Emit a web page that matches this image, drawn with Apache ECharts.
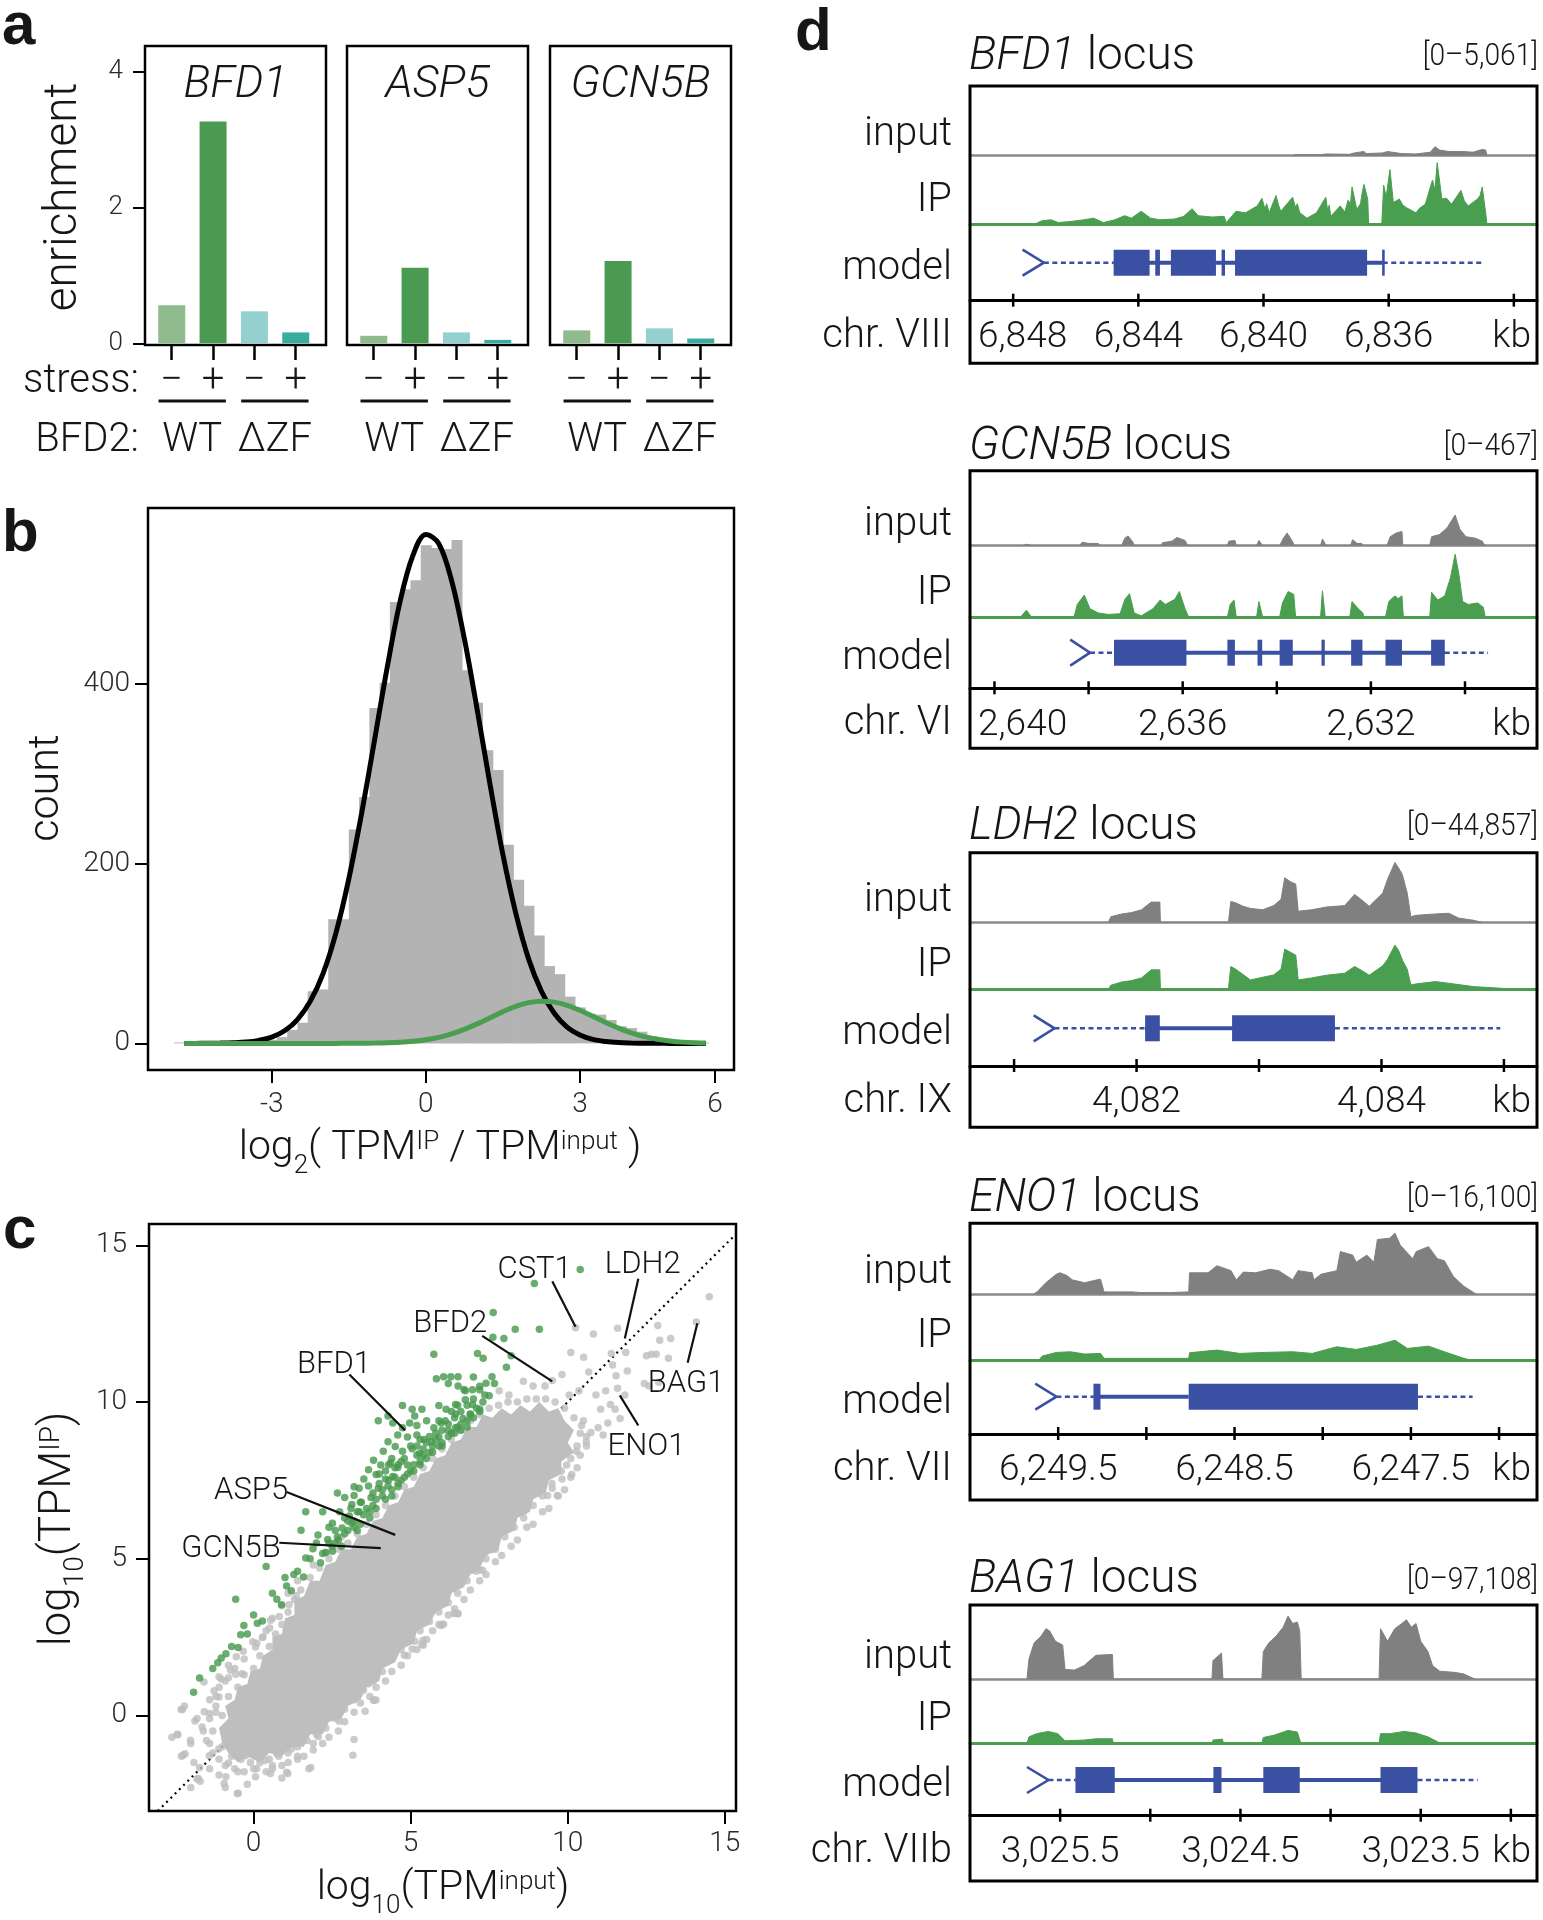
<!DOCTYPE html>
<html><head><meta charset="utf-8">
<script src="https://cdn.jsdelivr.net/npm/echarts@6/dist/echarts.min.js"></script>
<style>html,body{margin:0;padding:0;background:#fff}#c{width:1543px;height:1920px}</style>
</head><body><div id="c"></div>
<script>
// ---------------- DATA ----------------
// panel a
const aGenes = ['BFD1', 'ASP5', 'GCN5B'];
const aCats = [0, 1, 2, 3];
const aStress = ['\u2212', '+', '\u2212', '+'];
const aGroups = ['WT', '\u0394ZF'];
const aBFD1 = [0.56, 3.26, 0.47, 0.16];
const aASP5 = [0.11, 1.11, 0.16, 0.05];
const aGCN5B = [0.19, 1.21, 0.22, 0.07];
const aColors = ['#8fbb8e', '#4a9a51', '#94d0cf', '#38ac9e'];
const aYTicks = [0, 2, 4];
const aUnder = [[-0.32, 1.31], [1.68, 3.31]];
// panel b
const bCenters = [-4.8,-4.6,-4.4,-4.2,-4.0,-3.8,-3.6,-3.4,-3.2,-3.0,-2.8,-2.6,-2.4,-2.2,-2.0,-1.8,-1.6,-1.4,-1.2,-1.0,-0.8,-0.6,-0.4,-0.2,0,0.2,0.4,0.6,0.8,1.0,1.2,1.4,1.6,1.8,2.0,2.2,2.4,2.6,2.8,3.0,3.2,3.4,3.6,3.8,4.0,4.2,4.4,4.6,4.8,5.0,5.2,5.4];
const bCounts = [1,1,1,1,1,1,1,1,2,4,7,15,23,58,60,138,138,238,274,373,401,491,505,515,554,551,550,560,415,379,326,304,221,182,153,120,86,77,52,40,33,32,26,19,17,13,8,5,4,3,2,1];
const bCurveX = [-4.7,-4.5,-4.25,-4,-3.75,-3.5,-3.25,-3,-2.75,-2.5,-2.25,-2,-1.75,-1.5,-1.25,-1,-0.75,-0.5,-0.25,0,0.25,0.5,0.75,1,1.25,1.5,1.75,2,2.25,2.5,2.75,3,3.25,3.5,3.75,4,4.25,4.5,4.75,5,5.25,5.45];
const bBlack = [0,0,0.1,0.3,0.7,1.5,3.4,7,14,26.5,47,78,123,183,256,337,419,492,543,566,556,515,450,371,288,210,145,94,58,33.5,18,9.4,4.5,2.1,0.9,0.4,0.15,0.05,0,0,0,0];
const bGreen = [0,0,0,0,0,0,0,0,0,0,0,0,0,0.1,0.2,0.3,0.6,1.2,2.3,4.1,6.7,10.6,15.6,21.7,28.5,35.3,41.2,45.3,47,45.9,42.4,36.8,30.2,23.3,17,11.7,7.5,4.6,2.7,1.4,0.7,0.4];
const bTickVals = [-3, 0, 3, 5.63];
const bTickLabels = ['-3', '0', '3', '6'];
const bYTicks = [0, 200, 400];
// panel c
const cTicks = [0, 5, 10, 15];
const cDiag = [[-3.05, -3.05], [15.36, 15.36]];
// outline of the densest, fully overlapped part of the grey cloud
const cCore = [[-1.0,-0.9],[-1.1,-0.4],[-0.8,-0.1],[-0.9,0.3],[-0.6,0.5],[-0.5,0.9],[-0.2,1.0],[-0.1,1.4],[0.2,1.5],[0.3,1.9],[0.6,2.1],[0.6,2.5],[0.9,2.6],[1.0,3.1],[1.3,3.2],[1.3,3.7],[1.6,3.8],[1.8,4.3],[2.1,4.3],[2.3,4.8],[2.6,4.9],[2.8,5.3],[3.1,5.3],[3.3,5.7],[3.6,5.8],[3.8,6.2],[4.1,6.3],[4.3,6.7],[4.6,6.8],[4.8,7.2],[5.1,7.3],[5.3,7.7],[5.6,7.8],[5.8,8.2],[6.1,8.3],[6.3,8.7],[6.6,8.8],[6.8,9.2],[7.1,9.2],[7.3,9.6],[7.6,9.5],[7.9,9.8],[8.2,9.6],[8.5,9.9],[8.8,9.7],[9.1,10.0],[9.4,9.7],[9.7,9.8],[9.9,9.4],[10.2,9.1],[10.0,8.7],[10.2,8.4],[9.8,8.1],[9.8,7.7],[9.4,7.5],[9.3,7.1],[8.9,6.9],[8.8,6.5],[8.4,6.3],[8.3,5.9],[7.9,5.7],[7.8,5.3],[7.4,5.1],[7.2,4.7],[6.9,4.5],[6.7,4.1],[6.3,3.9],[6.2,3.5],[5.8,3.3],[5.6,2.9],[5.2,2.7],[5.1,2.3],[4.7,2.1],[4.5,1.7],[4.1,1.5],[4.0,1.1],[3.6,0.9],[3.4,0.5],[3.0,0.3],[2.8,-0.1],[2.4,-0.2],[2.2,-0.6],[1.8,-0.6],[1.6,-1.0],[1.2,-1.0],[0.9,-1.3],[0.5,-1.2],[0.2,-1.5],[-0.2,-1.3],[-0.5,-1.5],[-0.8,-1.2]];
const cGray = [[14.51,13.36],[14.10,12.55],[12.87,12.44],[13.28,12.03],[12.93,11.97],[11.59,12.35],[10.82,12.17],[10.25,12.37],[10.10,11.58],[11.85,11.58],[11.43,11.18],[11.39,11.55],[12.67,11.52],[12.51,11.48],[12.82,11.52],[13.21,11.40],[11.90,10.99],[11.54,10.84],[12.44,10.59],[12.59,10.51],[12.90,10.63],[10.51,11.43],[10.67,10.96],[9.82,10.88],[9.51,10.69],[9.28,10.51],[8.90,10.51],[8.59,10.66],[8.13,10.22],[7.82,10.36],[10.05,10.22],[10.36,10.36],[10.90,10.22],[11.21,10.36],[11.59,10.44],[11.82,10.22],[11.36,9.92],[11.05,9.77],[11.51,9.77],[11.67,9.47],[11.28,9.33],[10.97,9.18],[10.74,9.03],[11.13,8.95],[10.44,9.25],[10.59,8.73],[10.28,8.43],[9.97,7.99],[10.13,7.69],[9.67,7.84],[9.82,7.54],[9.51,7.25],[9.36,7.02],[9.67,7.02],[9.05,7.10],[8.59,6.50],[8.28,6.36],[7.97,6.06],[7.67,5.76],[7.59,5.32],[7.28,5.39],[7.20,4.65],[6.90,4.87],[6.59,4.42],[6.28,4.20],[5.97,3.83],[5.74,3.98],[5.51,3.53],[5.20,3.31],[5.13,2.87],[4.82,3.09],[4.74,2.72],[4.43,2.57],[6.43,3.27],[6.00,2.91],[6.51,3.24],[5.36,2.27],[4.13,2.27],[3.82,2.12],[3.90,0.49],[3.36,1.90],[3.05,1.60],[2.74,1.23],[2.82,0.86],[2.43,0.93],[2.43,0.12],[2.13,0.56],[1.97,-0.03],[1.66,-0.55],[1.82,-1.66],[1.05,-1.81],[1.20,-1.07],[0.74,-1.22],[0.36,-1.44],[0.05,-1.15],[-0.26,-1.29],[-0.49,-2.48],[-0.88,-1.96],[-0.80,-1.52],[-1.11,-1.07],[-1.41,-1.29],[-1.72,-1.66],[-1.80,-2.03],[-2.18,-1.22],[-2.41,-0.62],[-2.26,0.19],[-1.87,-0.18],[-1.57,0.12],[-1.26,0.79],[-1.03,1.16],[-0.80,1.60],[-0.57,1.31],[-0.33,2.05],[-0.03,2.35],[0.28,2.49],[0.51,2.79],[0.82,3.16],[1.13,3.53],[1.36,3.83],[3.20,-0.77],[3.82,0.49],[3.66,1.01],[3.36,1.31],[5.05,2.12],[5.51,2.42],[5.97,2.87],
[-1.5,-0.8],[-0.7,-1.1],[-1.2,0.1],[-1.6,-0.5],[-2.0,-0.9],[-1.9,-1.5],[-1.4,-1.7],[-1.1,-1.9],[-0.5,-1.8],[0.1,-1.7],[0.6,-1.6],[1.4,-1.3],[1.9,-0.9],[-2.3,-1.3],[-2.0,-2.3],[-1.7,-2.1],[-0.9,-2.3],[-0.2,-2.2],[0.9,-2.0],[-2.6,-0.7],[-1.8,-0.1],[-2.2,0.3],[-1.1,0.9],[-0.8,1.2],[-1.4,0.5],
[7.59,5.29],[6.98,4.63],[7.29,4.63],[6.50,4.26],[6.38,3.25],[6.50,3.25],[6.05,2.91],[5.40,3.46],[5.16,3.04],[5.40,2.24],[5.14,2.37],[4.80,1.92],[4.49,2.08],[4.31,1.81],[3.83,0.48],[3.55,0.13],[3.16,-1.27],[3.10,0.54],[2.73,-0.19],[2.49,0.16],[2.06,-0.68],[1.76,-1.70],[1.09,-1.85],[0.54,-1.85],[0.06,-1.96],[-0.52,-2.49],[-0.94,-2.17],[-1.76,-2.01],[-2.25,-1.27],[-2.43,-0.60],[-2.31,0.19],[-2.01,-0.79],[-1.64,-0.37],[-1.40,0.06],[-1.10,0.59],[-1.58,1.07],[-1.10,1.23],[-0.73,1.44],[-0.37,1.33],[-0.55,1.87],[0.06,2.18],[0.30,2.50],[0.54,3.04],
[-1.0,0.0],[-0.8,0.6],[-0.5,0.9],[-0.3,1.3],[0.0,1.5],[0.2,1.9],[0.5,2.2],[0.7,2.6],[0.9,2.9],[1.1,3.3],[1.3,3.7],[1.5,4.0],[1.8,4.4],[2.1,4.7],[2.4,5.0],[2.7,5.3],[3.0,5.5],[3.3,5.8],[3.6,6.1],[3.9,6.4],[4.2,6.7],[4.5,7.0],[4.8,7.3],[5.1,7.6],[5.4,7.9],[5.7,8.2],[6.0,8.5],[6.3,8.8],[6.6,9.1],[6.9,9.4],[7.2,9.6],[7.5,9.8],[7.8,9.9],[8.1,10.0],[8.4,10.0],[8.7,10.1],[9.0,10.1],[9.3,10.1],[9.6,10.0],[9.9,9.8],[10.2,9.5],
[10.4,9.0],[10.3,8.6],[10.1,8.2],[9.8,7.8],[9.5,7.4],[9.2,7.0],[8.9,6.7],[8.6,6.3],[8.3,6.0],[8.0,5.7],[7.7,5.3],[7.4,5.0],[7.1,4.6],[6.8,4.3],[6.5,3.9],[6.2,3.6],[5.9,3.3],[5.6,3.0],[5.3,2.7],[5.0,2.4],[4.7,2.1],[4.4,1.8],[4.1,1.4],[3.8,1.1],[3.5,0.8],[3.2,0.5],[2.9,0.2],[2.6,-0.1],[2.3,-0.4],[2.0,-0.6],[1.7,-0.8],[1.4,-1.0],[1.1,-1.2],[0.8,-1.3],[0.5,-1.4],[0.2,-1.5],[-0.1,-1.5],[-0.4,-1.4],[-0.7,-1.3],[-1.0,-1.0],
[10.6,8.6],[10.3,7.9],[9.9,7.2],[9.4,6.6],[8.9,6.1],[8.4,5.6],[7.9,5.1],[7.4,4.5],[6.9,4.0],[6.4,3.4],[5.9,2.9],[5.4,2.4],[4.9,1.9],[4.4,1.4],[3.9,0.9],[3.4,0.4],[2.9,-0.2],[2.4,-0.7],[1.9,-1.1],[1.4,-1.4],[0.9,-1.6],[0.4,-1.8],[-0.3,-1.8],[-0.9,-1.6],[-1.3,-1.2],[-1.3,-0.5],[-1.2,0.3],
[10.5,9.4],[10.6,8.9],[10.4,8.3],[10.1,7.6],[9.7,7.0],[9.2,6.5],[8.7,6.0],[8.2,5.4],[7.7,4.9],[7.2,4.3],[6.7,3.7],[6.2,3.2],[5.7,2.7],[5.2,2.1],[4.7,1.6],[4.2,1.1],[3.7,0.6],[3.2,0.1],[2.7,-0.5],[2.2,-0.9],[1.6,-1.3],[1.1,-1.5],[0.6,-1.7],[0.0,-1.7],[-0.6,-1.7],[-1.1,-1.4],[-1.4,-0.9],[-1.4,-0.1],[-1.2,0.6],[-0.9,1.1],[-0.6,1.5],[-0.3,1.8],[0.1,2.3],[0.4,2.7],[0.6,3.1],[0.9,3.5],[1.1,3.9],[1.4,4.3],[1.9,4.8],[2.3,5.2],[2.8,5.7]];
const cGreen = [[10.40,14.23],[8.94,13.78],[7.63,12.86],[9.10,12.32],[8.33,12.32],[7.97,12.03],[7.62,12.07],[5.74,11.52],[7.13,11.55],[7.31,11.40],[8.20,11.48],[8.05,11.11],[7.59,10.81],[7.67,10.59],[5.82,10.74],[6.05,10.81],[6.28,10.81],[6.51,10.81],[6.20,10.59],[6.51,10.51],[6.74,10.36],[6.97,10.39],[7.20,10.39],[7.36,10.22],[6.74,10.07],[6.97,9.92],[7.20,9.77],[6.43,9.92],[6.13,9.77],[5.90,9.89],[6.43,9.62],[6.67,9.47],[6.90,9.62],[4.74,9.89],[5.05,9.77],[5.36,9.77],[5.13,9.55],[4.28,9.55],[3.97,9.40],[4.43,9.33],[4.74,9.18],[4.97,9.33],[5.20,9.25],[5.51,9.40],[5.74,9.18],[5.97,9.33],[6.20,9.10],[6.43,9.18],[4.59,8.95],[4.90,8.88],[5.20,8.95],[5.43,8.80],[5.67,8.73],[5.90,8.88],[4.28,8.73],[4.51,8.58],[4.74,8.43],[5.05,8.51],[5.28,8.36],[4.13,8.43],[3.82,8.14],[4.05,7.99],[4.36,8.06],[4.59,7.91],[4.90,7.99],[3.66,7.84],[3.90,7.69],[4.20,7.54],[4.43,7.62],[3.51,7.54],[3.36,7.25],[3.66,7.32],[3.97,7.25],[4.28,7.32],[3.20,7.02],[2.90,6.95],[2.67,7.10],[3.13,6.73],[3.43,6.80],[3.74,6.95],[2.74,6.50],[3.05,6.36],[3.36,6.50],[2.51,6.13],[2.82,5.98],[3.13,6.13],[2.20,6.50],[1.66,6.50],[2.05,5.76],[2.36,5.61],[2.67,5.69],[1.51,5.91],[1.89,5.32],[2.20,5.17],[2.51,5.24],[1.66,5.02],[2.13,4.87],[0.40,4.75],[1.28,4.50],[1.59,4.42],[1.05,4.13],[1.20,3.98],[0.74,3.71],[-0.57,3.71],[0.89,3.53],[0.28,3.01],[0.12,2.94],[-0.31,2.87],[-0.41,2.57],[-0.88,1.97],[-1.03,1.83],[-1.14,1.68],[-1.72,1.19],[-1.91,0.74],[-0.49,2.17],
[2.6,5.5],[2.9,5.8],[3.2,6.0],[3.5,6.4],[3.8,6.7],[4.1,7.0],[4.4,7.2],[4.7,7.5],[5.0,7.8],[5.3,8.1],[5.6,8.4],[5.9,8.6],[6.2,8.9],[6.5,9.2],[6.8,9.4],[3.0,6.2],[3.4,6.1],[3.9,6.9],[4.5,7.6],[5.2,8.3],[5.8,8.8],[2.8,5.4],[3.3,5.9],
[3.6,6.6],[3.8,7.1],[4.0,7.4],[4.2,7.8],[4.4,8.2],[4.6,8.0],[4.8,8.2],[5.0,8.6],[5.2,8.6],[5.4,8.5],[5.6,8.9],[5.8,9.0],[6.0,9.1],[6.2,9.3],[6.4,9.5],[6.6,9.7],[6.8,9.9],[7.0,10.1],[3.4,6.8],[3.7,6.5],[4.1,7.2],[4.3,7.5],[4.6,7.3],[4.9,7.7],[5.1,8.0],[5.4,8.3],[5.7,8.6],[6.0,8.7],[6.3,9.0],[6.6,9.3],[6.9,9.6],[7.1,9.8],[2.9,6.3],[3.1,6.6],[2.4,5.5],[2.6,5.9],[3.3,6.5],[4.5,7.9],[5.3,8.8],[5.9,9.4],[6.5,9.9],[7.2,10.5],[7.4,10.6],[7.0,10.8],[6.7,10.4],
[2.3,5.2],[2.5,5.4],[2.7,5.6],[3.0,5.9],[3.2,6.2],[3.7,6.3],[3.9,6.6],[4.2,6.9],[4.4,7.0],[4.6,7.4],[4.8,7.6],[5.1,7.8],[5.3,8.0],[5.5,8.2],[5.7,8.4],[6.0,8.6],[6.4,9.0],[6.6,9.1],[6.8,9.2],[7.0,9.5],[7.2,9.7],[7.3,10.0],[7.5,10.2],[4.0,7.7],[4.3,8.0],[4.7,8.1],[5.5,8.7],[6.1,9.4],[6.3,9.7],[3.2,7.3],[2.4,6.0],[2.0,5.5],[1.8,5.0],[1.4,4.6],[1.0,4.4],[0.6,3.9],[0.0,3.2],[-0.2,2.6],[-0.7,2.2],[-1.3,1.5]];
// label, labelX, labelY, lineX1, lineY1, lineX2, lineY2
const cAnno = [['CST1',8.95,14.3,9.51,13.85,10.25,12.4],['LDH2',12.39,14.45,12.25,13.93,11.82,12.03],['BFD2',6.26,12.59,7.28,12.11,9.51,10.66],['BFD1',2.56,11.28,3.05,10.88,4.82,9.10],['ASP5',-0.08,7.25,1.05,7.13,4.51,5.76],['GCN5B',-0.72,5.39,0.82,5.51,4.05,5.34],['BAG1',13.77,10.66,13.82,11.25,14.13,12.51],['ENO1',12.51,8.65,12.25,9.25,11.66,10.21]];
// panel d  (positions in kb; coverage 0-100 of track height)
const dGenes = ['BFD1', 'GCN5B', 'LDH2', 'ENO1', 'BAG1'];
const dRanges = ['[0\u20135,061]', '[0\u2013467]', '[0\u201344,857]', '[0\u201316,100]', '[0\u201397,108]'];
const dChrom = ['chr. VIII', 'chr. VI', 'chr. IX', 'chr. VII', 'chr. VIIb'];
const dXLeft = [6849.38, 2640.52, 4080.64, 6250.0, 3026.0];
const dXRight = [6831.26, 2628.47, 4085.27, 6246.785, 3022.855];
const bfd1Ticks = [6848, 6844, 6840, 6836, 6832];
const bfd1TickLabels = ['6,848', '6,844', '6,840', '6,836', ''];
const gcn5bTicks = [2640, 2638, 2636, 2634, 2632, 2630];
const gcn5bTickLabels = ['2,640', '', '2,636', '', '2,632', ''];
const ldh2Ticks = [4081, 4082, 4083, 4084, 4085];
const ldh2TickLabels = ['', '4,082', '', '4,084', ''];
const eno1Ticks = [6249.5, 6249, 6248.5, 6248, 6247.5, 6247];
const eno1TickLabels = ['6,249.5', '', '6,248.5', '', '6,247.5', ''];
const bag1Ticks = [3025.5, 3025, 3024.5, 3024, 3023.5, 3023];
const bag1TickLabels = ['3,025.5', '', '3,024.5', '', '3,023.5', ''];
const bfd1Input = [[6839.07,0],[6838.99,1.5],[6838.16,1.5],[6838.01,2.5],[6837.25,2],[6837.10,4],[6836.79,6],[6836.72,3],[6836.19,4],[6836.04,6],[6835.89,5],[6835.58,3],[6835.13,2.5],[6834.67,5],[6834.52,13],[6834.37,8],[6834.07,6],[6833.61,6],[6833.31,5],[6833.01,9],[6832.90,8],[6832.86,0]];
const bfd1IP = [[6847.32,0],[6847.09,5],[6846.79,6.6],[6846.56,2.5],[6846.18,4],[6845.73,6.6],[6845.43,9],[6845.12,2.5],[6844.75,6.6],[6844.44,12.6],[6844.22,9],[6843.91,19],[6843.61,9],[6843.31,6.6],[6842.85,7.6],[6842.55,11.6],[6842.28,22.7],[6842.09,12.6],[6841.64,10.6],[6841.26,11.6],[6841.19,2.5],[6840.88,19],[6840.58,16.7],[6840.20,26.8],[6840.05,37.9],[6839.95,22],[6839.90,30],[6839.82,16.7],[6839.60,42],[6839.52,28],[6839.45,19],[6839.07,39.4],[6838.98,25],[6838.92,30],[6838.84,16.7],[6838.61,9],[6838.31,16.7],[6838.01,39.4],[6837.95,20],[6837.90,28],[6837.85,11.6],[6837.55,26.8],[6837.40,18],[6837.30,35],[6837.22,30],[6837.17,54.5],[6837.02,21.7],[6836.90,30],[6836.85,45],[6836.79,58],[6836.67,36.9],[6836.64,0],[6836.22,0],[6836.16,57],[6836.08,40],[6835.96,79.8],[6835.85,31.8],[6835.66,36.9],[6835.55,28],[6835.43,24.2],[6835.13,16.7],[6835.00,24],[6834.83,29.3],[6834.60,64.6],[6834.52,50],[6834.45,89.9],[6834.30,36.9],[6834.15,38],[6833.99,29.3],[6833.69,49.5],[6833.58,34],[6833.46,26.8],[6833.16,36.9],[6833.08,42],[6833.01,54.5],[6832.90,16.7],[6832.86,0]];
const gcn5bInput = [[2639.40,0],[2639.32,2],[2639.21,0],[2638.19,0],[2638.14,4.5],[2637.99,3],[2637.79,3],[2637.77,0],[2637.30,0],[2637.23,10],[2637.16,13],[2637.06,5],[2637.03,0],[2636.46,0],[2636.43,4],[2636.23,6],[2636.12,11],[2635.95,7],[2635.89,0],[2635.05,0],[2635.02,6],[2634.89,7],[2634.86,0],[2634.43,0],[2634.38,7],[2634.30,0],[2633.94,0],[2633.86,10],[2633.78,17],[2633.66,5],[2633.63,0],[2633.07,0],[2633.03,9],[2632.95,0],[2632.43,0],[2632.39,8],[2632.29,3],[2632.19,3],[2632.17,0],[2631.66,0],[2631.59,12],[2631.46,17],[2631.34,19],[2631.32,0],[2630.75,0],[2630.71,12],[2630.54,15],[2630.38,24],[2630.28,34],[2630.21,41],[2630.11,22],[2629.98,12],[2629.78,10],[2629.63,6],[2629.58,0]];
const gcn5bIP = [[2639.45,0],[2639.32,10],[2639.21,0],[2638.31,0],[2638.24,18],[2638.09,31],[2637.97,12],[2637.79,6],[2637.58,4],[2637.33,5],[2637.23,25],[2637.13,33],[2637.03,6],[2636.88,2],[2636.63,12],[2636.48,24],[2636.37,18],[2636.17,25],[2636.07,36],[2635.95,12],[2635.87,0],[2635.05,0],[2634.99,18],[2634.91,24],[2634.86,0],[2634.43,0],[2634.38,22],[2634.30,0],[2633.94,0],[2633.88,20],[2633.76,36],[2633.64,32],[2633.60,0],[2633.07,0],[2633.03,37],[2632.97,0],[2632.45,0],[2632.40,22],[2632.27,12],[2632.17,6],[2632.15,0],[2631.69,0],[2631.62,22],[2631.49,30],[2631.42,26],[2631.34,30],[2631.31,0],[2630.75,0],[2630.71,35],[2630.58,24],[2630.43,30],[2630.31,55],[2630.21,88],[2630.13,60],[2630.05,22],[2629.93,18],[2629.73,20],[2629.61,14],[2629.57,0]];
const ldh2Input = [[4081.77,0],[4081.79,8],[4081.88,12],[4081.96,14],[4082.04,18],[4082.12,29],[4082.19,29],[4082.195,0],[4082.75,0],[4082.77,30],[4082.81,28],[4082.87,23],[4082.93,20],[4083.03,18],[4083.12,24],[4083.18,33],[4083.21,64],[4083.26,58],[4083.30,55],[4083.32,16],[4083.43,18],[4083.55,22],[4083.70,24],[4083.78,40],[4083.84,32],[4083.90,23],[4084.01,42],[4084.05,62],[4084.11,86],[4084.14,78],[4084.17,69],[4084.21,42],[4084.24,8],[4084.28,10],[4084.44,12],[4084.55,13],[4084.63,6],[4084.75,3],[4084.82,0]];
const ldh2IP = [[4081.77,0],[4081.79,6],[4081.88,11],[4081.96,13],[4082.04,17],[4082.12,29],[4082.19,29],[4082.195,0],[4082.75,0],[4082.77,34],[4082.81,30],[4082.87,22],[4082.93,14],[4083.03,18],[4083.12,21.5],[4083.18,30],[4083.21,60],[4083.26,55],[4083.30,51],[4083.32,14],[4083.43,17],[4083.55,21],[4083.70,24],[4083.78,34],[4083.84,28],[4083.90,21],[4084.01,35],[4084.05,45],[4084.11,66],[4084.14,58],[4084.17,44],[4084.21,30],[4084.24,6.5],[4084.28,8],[4084.44,11.5],[4084.55,9],[4084.75,4],[4084.98,1.5],[4085.02,0]];
const eno1Input = [[6249.64,0],[6249.62,3],[6249.57,16],[6249.51,28],[6249.49,30],[6249.45,26],[6249.42,20],[6249.35,16],[6249.28,20],[6249.26,21],[6249.24,3],[6249.08,3],[6249.03,2],[6248.87,2],[6248.76,3],[6248.755,30],[6248.65,30],[6248.60,40],[6248.52,33],[6248.49,20],[6248.45,31],[6248.38,30],[6248.30,35],[6248.25,33],[6248.17,20],[6248.14,33],[6248.06,30],[6248.05,20],[6248.01,28],[6247.92,33],[6247.90,60],[6247.83,55],[6247.81,45],[6247.75,55],[6247.71,45],[6247.69,77],[6247.62,79],[6247.59,86],[6247.56,69],[6247.49,50],[6247.47,60],[6247.40,67],[6247.35,50],[6247.31,47],[6247.26,25],[6247.20,11],[6247.15,3],[6247.13,0]];
const eno1IP = [[6249.61,0],[6249.59,6],[6249.51,11.5],[6249.43,12.5],[6249.35,9],[6249.26,10],[6249.24,2.5],[6248.76,2.5],[6248.755,11],[6248.60,15],[6248.47,10],[6248.33,11.5],[6248.17,12.5],[6248.06,10],[6247.92,20],[6247.81,16],[6247.69,22.5],[6247.59,30],[6247.52,17.5],[6247.40,21],[6247.31,12.5],[6247.20,2.5],[6247.16,0]];
const bag1Input = [[3025.684,0],[3025.673,27],[3025.644,49],[3025.605,58],[3025.579,68],[3025.558,65],[3025.526,51],[3025.486,46],[3025.473,13],[3025.421,12],[3025.368,18],[3025.302,32],[3025.223,33],[3025.210,33],[3025.205,0],[3024.658,0],[3024.652,25],[3024.605,35],[3024.597,0],[3024.381,0],[3024.373,37],[3024.342,49],[3024.302,58],[3024.263,70],[3024.236,85],[3024.210,75],[3024.184,77],[3024.171,65],[3024.163,0],[3023.731,0],[3023.723,68],[3023.684,51],[3023.644,68],[3023.605,75],[3023.579,80],[3023.552,70],[3023.526,75],[3023.500,51],[3023.460,37],[3023.434,18],[3023.394,10.5],[3023.315,9],[3023.263,7],[3023.210,1],[3023.197,0]];
const bag1IP = [[3025.684,0],[3025.673,10],[3025.631,15],[3025.565,18.5],[3025.513,15],[3025.473,4],[3025.368,5],[3025.302,7],[3025.210,7],[3025.205,0],[3024.658,0],[3024.652,5],[3024.600,6.5],[3024.594,0],[3024.381,0],[3024.373,9],[3024.315,12.5],[3024.236,20],[3024.184,17.5],[3024.165,0],[3023.731,0],[3023.723,15],[3023.671,15],[3023.592,18.5],[3023.526,16],[3023.460,10],[3023.407,2.5],[3023.394,0]];
// gene models: [start, end, 0, kind]  kind 0 = dashed UTR, 1 = intron line, 2 = exon, 3 = start chevron [back, tip]
const bfd1Model = [[6847.02,6844.79,0,0],[6836.19,6832.93,0,0],[6844.79,6836.19,0,1],[6844.79,6843.64,0,2],[6843.46,6843.31,0,2],[6842.96,6841.52,0,2],[6841.34,6841.23,0,2],[6840.91,6836.69,0,2],[6836.21,6836.17,0,2],[6847.70,6847.02,0,3]];
const gcn5bModel = [[2637.97,2637.46,0,0],[2630.43,2629.51,0,0],[2637.46,2630.43,0,1],[2637.46,2635.92,0,2],[2635.05,2634.89,0,2],[2634.41,2634.31,0,2],[2633.94,2633.66,0,2],[2633.05,2632.98,0,2],[2632.42,2632.18,0,2],[2631.69,2631.34,0,2],[2630.72,2630.43,0,2],[2638.39,2637.97,0,3]];
const ldh2Model = [[4081.33,4082.07,0,0],[4083.62,4084.97,0,0],[4082.07,4083.62,0,1],[4082.07,4082.19,0,2],[4082.78,4083.62,0,2],[4081.16,4081.33,0,3]];
const eno1Model = [[6249.51,6249.30,0,0],[6247.46,6247.15,0,0],[6249.30,6248.76,0,1],[6249.30,6249.26,0,2],[6248.76,6247.46,0,2],[6249.63,6249.51,0,3]];
const bag1Model = [[3025.565,3025.415,0,0],[3023.518,3023.184,0,0],[3025.415,3023.518,0,1],[3025.415,3025.197,0,2],[3024.650,3024.605,0,2],[3024.373,3024.171,0,2],[3023.723,3023.518,0,2],[3025.684,3025.565,0,3]];

// ---------------- LAYOUT ----------------
const FF = 'Roboto, "Liberation Sans", Arial, sans-serif';
const FW = 300;
const TXT = '#161616';
const TY = 4; // vertical nudge for text glyph centres
const dLayout = [ // top, inputBase, ipBase, modelY, axisY, bottom, titleY
  [86, 155.7, 224.3, 262.7, 300.7, 363.3, 53],
  [470.7, 545.7, 617.3, 652.7, 688.3, 748.3, 443.3],
  [852.7, 922.3, 989.3, 1028.3, 1066, 1127.3, 823.3],
  [1223.3, 1294, 1360, 1396.7, 1434, 1500, 1195],
  [1605, 1679, 1743.3, 1780, 1815.7, 1881, 1576.7]];
const dFrameL = 970, dFrameW = 567;
const loci = [
  {input: bfd1Input, ip: bfd1IP, model: bfd1Model, ticks: bfd1Ticks, labels: bfd1TickLabels},
  {input: gcn5bInput, ip: gcn5bIP, model: gcn5bModel, ticks: gcn5bTicks, labels: gcn5bTickLabels},
  {input: ldh2Input, ip: ldh2IP, model: ldh2Model, ticks: ldh2Ticks, labels: ldh2TickLabels},
  {input: eno1Input, ip: eno1IP, model: eno1Model, ticks: eno1Ticks, labels: eno1TickLabels},
  {input: bag1Input, ip: bag1IP, model: bag1Model, ticks: bag1Ticks, labels: bag1TickLabels}];

const mctx = document.createElement('canvas').getContext('2d');
function textW(t, s, it, wt) { mctx.font = (it ? 'italic ' : '') + (wt || FW) + ' ' + s + 'px ' + FF; return mctx.measureText(t).width; }
function comp(pieces, x, y, align, rot) {
  const ws = pieces.map(p => textW(p.t, p.s, p.it));
  const tot = ws.reduce((a, b) => a + b, 0);
  let cx = align === 'center' ? -tot / 2 : (align === 'right' ? -tot : 0);
  const ch = [];
  pieces.forEach((p, i) => {
    ch.push({type: 'text', x: cx, y: p.dy || 0, style: {text: p.t, fontSize: p.s, fontFamily: FF, fontWeight: FW, fontStyle: p.it ? 'italic' : 'normal', fill: TXT, align: 'left', verticalAlign: 'middle'}});
    cx += ws[i];
  });
  return {type: 'group', x: x, y: y, rotation: rot || 0, children: ch, silent: true};
}
function txt(t, x, y, s, align, extra, el) {
  return Object.assign({type: 'text', x: x, y: y, silent: true, style: Object.assign({text: t, fontSize: s, fontFamily: FF, fontWeight: FW, fill: TXT, align: align || 'left', verticalAlign: 'middle'}, extra || {})}, el || {});
}

const option = {animation: false, backgroundColor: '#fff', textStyle: {fontFamily: FF, fontWeight: FW}, grid: [], xAxis: [], yAxis: [], series: []};
function mkGrid(l, t, w, h, extra) { option.grid.push(Object.assign({left: l, top: t, width: w, height: h, containLabel: false, outerBoundsMode: 'none'}, extra || {})); return option.grid.length - 1; }
function mkX(c) { option.xAxis.push(c); return option.xAxis.length - 1; }
function mkY(c) { option.yAxis.push(c); return option.yAxis.length - 1; }
const noAxis = {axisLine: {show: false, onZero: false}, axisTick: {show: false}, axisLabel: {show: false}, splitLine: {show: false}};
const noLine = {show: false, onZero: false};
const lblStyle = (s, m, extra) => Object.assign({fontSize: s, fontFamily: FF, fontWeight: FW, color: '#2a2a2a', margin: m}, extra || {});

// ---- panel a ----
const aSets = [aBFD1, aASP5, aGCN5B];
const aFrameLeft = [145, 347, 550];
const aXIdx = [];
aSets.forEach((vals, i) => {
  const g = mkGrid(aFrameLeft[i], 46, 181, 299, {show: true, borderColor: '#000', borderWidth: 2.5, backgroundColor: 'rgba(0,0,0,0)'});
  const xi = mkX({gridIndex: g, type: 'value', min: -0.647, max: 3.732, axisLine: noLine, splitLine: {show: false},
    axisTick: {show: true, customValues: aCats, length: 15, lineStyle: {color: '#000', width: 2.5}},
    axisLabel: lblStyle(40, 37, {show: true, customValues: aCats, formatter: v => aStress[Math.round(v)], verticalAlign: 'middle', color: TXT})});
  aXIdx.push(xi);
  const yi = mkY({gridIndex: g, type: 'value', min: -0.025, max: 4.372, axisLine: noLine, splitLine: {show: false},
    axisTick: {show: i === 0, customValues: aYTicks, length: 12, lineStyle: {color: '#000', width: 2}},
    axisLabel: lblStyle(26, 22, {show: i === 0, customValues: aYTicks})});
  option.series.push({type: 'bar', xAxisIndex: xi, yAxisIndex: yi, barWidth: 27, silent: true,
    data: vals.map((v, k) => ({value: [aCats[k], v], itemStyle: {color: aColors[k]}}))});
});

// ---- panel b ----
const gb = mkGrid(148, 508, 586, 562, {show: true, borderColor: '#000', borderWidth: 2.5, backgroundColor: 'rgba(0,0,0,0)'});
const bxi = mkX({gridIndex: gb, type: 'value', min: -5.41, max: 6.0, axisLine: noLine, splitLine: {show: false},
  axisTick: {show: true, customValues: bTickVals, length: 13, lineStyle: {color: '#000', width: 2}},
  axisLabel: lblStyle(28, 35, {customValues: bTickVals, verticalAlign: 'middle', formatter: v => { let k = 0; bTickVals.forEach((t, i) => { if (Math.abs(t - v) < Math.abs(bTickVals[k] - v)) k = i; }); return bTickLabels[k]; }})});
const byi = mkY({gridIndex: gb, type: 'value', min: -29.6, max: 595.5, axisLine: noLine, splitLine: {show: false},
  axisTick: {show: true, customValues: bYTicks, length: 13, lineStyle: {color: '#000', width: 2}},
  axisLabel: lblStyle(28, 18, {customValues: bYTicks})});
option.series.push({type: 'custom', xAxisIndex: bxi, yAxisIndex: byi, silent: true, z: 2,
  data: bCenters.map((c, i) => [c, bCounts[i]]), encode: {x: 0, y: 1},
  renderItem: (params, api) => {
    const c = api.value(0), n = api.value(1);
    const p1 = api.coord([c - 0.1, n]), p2 = api.coord([c + 0.1, 0]);
    return {type: 'rect', shape: {x: p1[0], y: p1[1], width: p2[0] - p1[0] + 0.7, height: p2[1] - p1[1]}, style: {fill: '#b3b3b3'}};
  }});
option.series.push({type: 'line', xAxisIndex: bxi, yAxisIndex: byi, silent: true, z: 3, smooth: 0.35, symbol: 'none',
  data: bCurveX.map((x, i) => [x, bBlack[i]]), lineStyle: {color: '#000', width: 5}});
option.series.push({type: 'line', xAxisIndex: bxi, yAxisIndex: byi, silent: true, z: 4, smooth: 0.35, symbol: 'none',
  data: bCurveX.map((x, i) => [x, bGreen[i]]), lineStyle: {color: '#4a9e50', width: 5}});

// ---- panel c ----
const gc = mkGrid(149, 1224, 587, 587, {show: true, borderColor: '#000', borderWidth: 2.5, backgroundColor: 'rgba(0,0,0,0)'});
const cxi = mkX({gridIndex: gc, type: 'value', min: -3.33, max: 15.36, axisLine: noLine, splitLine: {show: false},
  axisTick: {show: true, customValues: cTicks, length: 13, lineStyle: {color: '#000', width: 2}},
  axisLabel: lblStyle(28, 33, {customValues: cTicks, verticalAlign: 'middle'})});
const cyi = mkY({gridIndex: gc, type: 'value', min: -3.05, max: 15.68, axisLine: noLine, splitLine: {show: false},
  axisTick: {show: true, customValues: cTicks, length: 13, lineStyle: {color: '#000', width: 2}},
  axisLabel: lblStyle(28, 22, {customValues: cTicks})});
option.series.push({type: 'line', xAxisIndex: cxi, yAxisIndex: cyi, silent: true, z: 1, symbol: 'none', data: cDiag,
  lineStyle: {color: '#000', width: 2.2, type: [2, 4]}});
option.series.push({type: 'custom', xAxisIndex: cxi, yAxisIndex: cyi, silent: true, z: 2, data: [[cCore[0][0], cCore[0][1]]], encode: {x: 0, y: 1},
  renderItem: (params, api) => ({type: 'polygon', shape: {points: cCore.map(p => api.coord(p))}, style: {fill: '#bebebe'}})});
option.series.push({type: 'scatter', xAxisIndex: cxi, yAxisIndex: cyi, silent: true, z: 3, data: cGray, symbolSize: 7.5, itemStyle: {color: '#bebebe'}});
option.series.push({type: 'scatter', xAxisIndex: cxi, yAxisIndex: cyi, silent: true, z: 4, data: cGreen, symbolSize: 7.5, itemStyle: {color: '#46994c'}});
option.series.push({type: 'custom', xAxisIndex: cxi, yAxisIndex: cyi, silent: true, z: 6, data: cAnno.map(a => [a[1], a[2]]), encode: {x: 0, y: 1},
  renderItem: (params, api) => {
    const a = cAnno[params.dataIndex];
    const p = api.coord([a[1], a[2]]), l1 = api.coord([a[3], a[4]]), l2 = api.coord([a[5], a[6]]);
    return {type: 'group', children: [
      {type: 'line', shape: {x1: l1[0], y1: l1[1], x2: l2[0], y2: l2[1]}, style: {stroke: '#111', lineWidth: 2.2}},
      {type: 'text', x: p[0], y: p[1] + 3, style: {text: a[0], fontSize: 31, fontFamily: FF, fontWeight: FW, fill: TXT, align: 'center', verticalAlign: 'middle'}}]};
  }});

// ---- panel d ----
const BLUE = '#3a51a3';
function renderModel(params, api) {
  const s = api.value(0), e = api.value(1), k = api.value(3);
  const a = api.coord([s, 0]), b = api.coord([e, 0]);
  const y = a[1];
  if (k === 0) return {type: 'line', shape: {x1: a[0], y1: y, x2: b[0], y2: y}, style: {stroke: BLUE, lineWidth: 2.5, lineDash: [5, 3.5]}};
  if (k === 1) return {type: 'line', shape: {x1: a[0], y1: y, x2: b[0], y2: y}, style: {stroke: BLUE, lineWidth: 4}};
  if (k === 2) { const x1 = Math.min(a[0], b[0]), w = Math.max(Math.abs(b[0] - a[0]), 2.6); return {type: 'rect', shape: {x: x1, y: y - 13, width: w, height: 26}, style: {fill: BLUE}}; }
  return {type: 'polyline', shape: {points: [[a[0], y - 13], [b[0], y], [a[0], y + 13]]}, style: {stroke: BLUE, lineWidth: 2.6, fill: null}};
}
const graphics = [];
loci.forEach((L, i) => {
  const [top, inB, ipB, mY, axY, bot, tY] = dLayout[i];
  const inv = dXLeft[i] > dXRight[i];
  const xmin = Math.min(dXLeft[i], dXRight[i]), xmax = Math.max(dXLeft[i], dXRight[i]);
  const X = (g, extra) => mkX(Object.assign({gridIndex: g, type: 'value', min: xmin, max: xmax, inverse: inv}, noAxis, extra || {}));
  const Y = (g, mn, mx) => mkY(Object.assign({gridIndex: g, type: 'value', min: mn, max: mx}, noAxis));
  const gIn = mkGrid(dFrameL, top, dFrameW, inB - top);
  const xIn = X(gIn, {axisLine: {show: true, onZero: false, lineStyle: {color: '#8a8a8a', width: 2.5}}});
  const yIn = Y(gIn, 0, 100);
  option.series.push({type: 'line', xAxisIndex: xIn, yAxisIndex: yIn, silent: true, z: 3, symbol: 'none', data: L.input,
    lineStyle: {color: '#808080', width: 1}, areaStyle: {color: '#808080', opacity: 1}});
  const gIP = mkGrid(dFrameL, inB, dFrameW, ipB - inB);
  const xIP = X(gIP, {axisLine: {show: true, onZero: false, lineStyle: {color: '#4a9e50', width: 3}}});
  const yIP = Y(gIP, 0, 100);
  option.series.push({type: 'line', xAxisIndex: xIP, yAxisIndex: yIP, silent: true, z: 3, symbol: 'none', data: L.ip,
    lineStyle: {color: '#4a9e50', width: 1}, areaStyle: {color: '#4a9e50', opacity: 1}});
  const gM = mkGrid(dFrameL, mY - 20, dFrameW, 40);
  const xM = X(gM), yM = Y(gM, -1, 1);
  option.series.push({type: 'custom', xAxisIndex: xM, yAxisIndex: yM, silent: true, z: 4, data: L.model, encode: {x: [0, 1], y: 2}, renderItem: renderModel});
  const gA = mkGrid(dFrameL, axY, dFrameW, bot - axY);
  const xA = X(gA, {position: 'top', axisLine: {show: true, onZero: false, lineStyle: {color: '#000', width: 3}}});
  const yA = Y(gA, 0, 1);
  option.series.push({type: 'custom', xAxisIndex: xA, yAxisIndex: yA, silent: true, z: 5, data: L.ticks.map(v => [v, 0]), encode: {x: 0, y: 1},
    renderItem: (params, api) => {
      const cs = params.coordSys;
      const p = api.coord([api.value(0), 0]);
      const ay = cs.y;
      const ch = [{type: 'line', shape: {x1: p[0], y1: ay - 7, x2: p[0], y2: ay + 6}, style: {stroke: '#000', lineWidth: 2.5}}];
      const lab = L.labels[params.dataIndex];
      if (lab) {
        const w = textW(lab, 37);
        let x = p[0];
        if (x - w / 2 < cs.x + 8) x = cs.x + 8 + w / 2;
        ch.push({type: 'text', x: x, y: ay + 33 + TY, style: {text: lab, fontSize: 37, fontFamily: FF, fontWeight: FW, fill: TXT, align: 'center', verticalAlign: 'middle'}});
      }
      return {type: 'group', children: ch};
    }});
  // frame and texts
  graphics.push({type: 'rect', z: 100, silent: true, shape: {x: dFrameL, y: top, width: dFrameW, height: bot - top}, style: {fill: 'none', stroke: '#000', lineWidth: 3}});
  graphics.push(comp([{t: dGenes[i], s: 46, it: true}, {t: ' locus', s: 46}], dFrameL - 1, tY + TY, 'left'));
  graphics.push(txt(dRanges[i], 1538, tY + TY, 32, 'right', null, {scaleX: 0.88}));
  graphics.push(txt('input', 952, inB - 25 + TY, 40, 'right'));
  graphics.push(txt('IP', 952, ipB - 27 + TY, 40, 'right'));
  graphics.push(txt('model', 952, mY + 2 + TY, 40, 'right'));
  graphics.push(txt(dChrom[i], 952, axY + 32 + TY, 40, 'right'));
  graphics.push(txt('kb', 1531, axY + 33 + TY, 37, 'right'));
});

// panel letters & axis titles
const bold = {fontWeight: 'bold', fontFamily: '"Liberation Sans", Arial, sans-serif', fontSize: 60};
graphics.push(txt('a', 2, 27, 60, 'left', bold));
graphics.push(txt('b', 2, 534, 60, 'left', bold));
graphics.push(txt('c', 3, 1231, 60, 'left', bold));
graphics.push(txt('d', 795, 33, 60, 'left', bold));
graphics.push(comp([{t: 'enrichment', s: 46}], 64.5, 197, 'center', Math.PI / 2));
graphics.push(comp([{t: 'count', s: 43}], 47, 788, 'center', Math.PI / 2));
graphics.push(comp([{t: 'log', s: 41}, {t: '2', s: 26, dy: 17}, {t: '( TPM', s: 41}, {t: 'IP', s: 26, dy: -7}, {t: ' / TPM', s: 41}, {t: 'input', s: 26, dy: -7}, {t: ' )', s: 41}], 440, 1149, 'center'));
graphics.push(comp([{t: 'log', s: 41}, {t: '10', s: 26, dy: 17}, {t: '(TPM', s: 41}, {t: 'input', s: 26, dy: -7}, {t: ')', s: 41}], 443, 1889, 'center'));
graphics.push(comp([{t: 'log', s: 44}, {t: '10', s: 28, dy: 17}, {t: '(TPM', s: 44}, {t: 'IP', s: 28, dy: -7}, {t: ')', s: 44}], 58.5, 1529, 'center', Math.PI / 2));
aGenes.forEach((g, i) => graphics.push(txt(g, aFrameLeft[i] + 90.5, 82 + TY, 45, 'center', {fontStyle: 'italic'})));
graphics.push(txt('stress:', 139, 378 + TY, 40, 'right'));
graphics.push(txt('BFD2:', 139, 437 + TY, 40, 'right'));

const chart = echarts.init(document.getElementById('c'), null, {renderer: 'canvas', width: 1543, height: 1920});
chart.setOption(option);
// underlines and group names placed from the bar axes
aXIdx.forEach((xi) => {
  aUnder.forEach((u, k) => {
    const x1 = chart.convertToPixel({xAxisIndex: xi}, u[0]);
    const x2 = chart.convertToPixel({xAxisIndex: xi}, u[1]);
    graphics.push({type: 'line', silent: true, shape: {x1: x1, y1: 401, x2: x2, y2: 401}, style: {stroke: '#111', lineWidth: 3}});
    graphics.push(txt(aGroups[k], (x1 + x2) / 2, 437 + TY, 40, 'center'));
  });
});
chart.setOption({graphic: graphics});
</script></body></html>
